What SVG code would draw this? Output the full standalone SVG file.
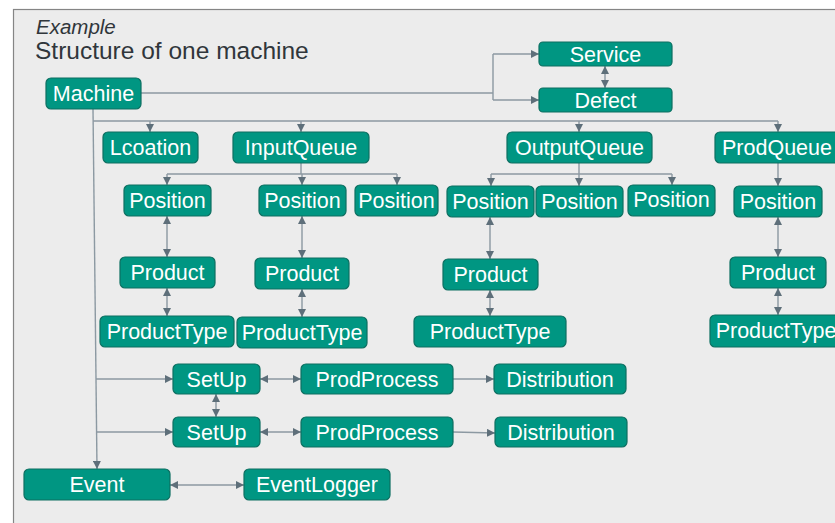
<svg xmlns="http://www.w3.org/2000/svg" width="835" height="523" viewBox="0 0 835 523">
  <style>
    .node rect { fill: #009682; stroke: #0d6f61; stroke-width: 1.2; }
    .node text { fill: #ffffff; font-family: "Liberation Sans", Arial, sans-serif; font-size: 21.5px; text-anchor: middle; }
    .edge { fill: none; stroke: #8c99a2; stroke-width: 1.4; }
    .title { fill: #30363b; font-family: "Liberation Sans", Arial, sans-serif; }
  </style>
  <defs>
    <marker id="arrow" viewBox="0 0 8 8" refX="8" refY="4" markerWidth="8" markerHeight="8" markerUnits="userSpaceOnUse" orient="auto-start-reverse">
      <path d="M0,0 L8,4 L0,8 z" fill="#5e6f7a"/>
    </marker>
  </defs>

  <!-- canvas -->
  <rect x="0" y="0" width="835" height="523" fill="#ffffff"/>
  <rect x="13.5" y="9.5" width="840" height="530" fill="#ececec" stroke="#858585" stroke-width="1.2"/>

  <text class="title" x="36" y="34" font-size="20.5" font-style="italic">Example</text>
  <text class="title" x="35" y="59" font-size="24.5">Structure of one machine</text>

  <!-- connectors -->
  <g id="connectors">
    <!-- Machine to Service / Defect -->
    <path class="edge" d="M141,93 H493"/>
    <path class="edge" d="M493,54 V100"/>
    <path class="edge" d="M493,54 H539" marker-end="url(#arrow)"/>
    <path class="edge" d="M493,100 H539" marker-end="url(#arrow)"/>
    <path class="edge" d="M605,66 V88" marker-start="url(#arrow)" marker-end="url(#arrow)"/>

    <!-- Machine trunk -->
    <path class="edge" d="M93,109 L97,469" marker-end="url(#arrow)"/>
    <path class="edge" d="M93,121 H778"/>
    <path class="edge" d="M150,121 V132" marker-end="url(#arrow)"/>
    <path class="edge" d="M301,121 V132" marker-end="url(#arrow)"/>
    <path class="edge" d="M579,121 V132" marker-end="url(#arrow)"/>
    <path class="edge" d="M778,121 V132" marker-end="url(#arrow)"/>

    <!-- InputQueue positions -->
    <path class="edge" d="M301,163 V174"/>
    <path class="edge" d="M167,174 H397"/>
    <path class="edge" d="M167,174 V185" marker-end="url(#arrow)"/>
    <path class="edge" d="M302,174 V185" marker-end="url(#arrow)"/>
    <path class="edge" d="M397,174 V185" marker-end="url(#arrow)"/>

    <!-- OutputQueue positions -->
    <path class="edge" d="M579,163 V174"/>
    <path class="edge" d="M491,174 H672"/>
    <path class="edge" d="M491,174 V186" marker-end="url(#arrow)"/>
    <path class="edge" d="M579,174 V186" marker-end="url(#arrow)"/>
    <path class="edge" d="M672,174 V185" marker-end="url(#arrow)"/>

    <!-- ProdQueue position -->
    <path class="edge" d="M778,163 V186" marker-end="url(#arrow)"/>

    <!-- Position <-> Product <-> ProductType -->
    <path class="edge" d="M167,216 V257" marker-start="url(#arrow)" marker-end="url(#arrow)"/>
    <path class="edge" d="M167,288 V316" marker-start="url(#arrow)" marker-end="url(#arrow)"/>
    <path class="edge" d="M302,216 V258" marker-start="url(#arrow)" marker-end="url(#arrow)"/>
    <path class="edge" d="M302,289 V317" marker-start="url(#arrow)" marker-end="url(#arrow)"/>
    <path class="edge" d="M490,217 V259" marker-start="url(#arrow)" marker-end="url(#arrow)"/>
    <path class="edge" d="M490,290 V316" marker-start="url(#arrow)" marker-end="url(#arrow)"/>
    <path class="edge" d="M778,217 V257" marker-start="url(#arrow)" marker-end="url(#arrow)"/>
    <path class="edge" d="M778,288 V315" marker-start="url(#arrow)" marker-end="url(#arrow)"/>

    <!-- SetUp rows -->
    <path class="edge" d="M96,379 H173" marker-end="url(#arrow)"/>
    <path class="edge" d="M96.5,432 H173" marker-end="url(#arrow)"/>
    <path class="edge" d="M216,394 V417" marker-start="url(#arrow)" marker-end="url(#arrow)"/>
    <path class="edge" d="M260,379 H301" marker-start="url(#arrow)" marker-end="url(#arrow)"/>
    <path class="edge" d="M260,432 H301" marker-start="url(#arrow)" marker-end="url(#arrow)"/>
    <path class="edge" d="M453,379 H494" marker-end="url(#arrow)"/>
    <path class="edge" d="M453,432 L495,433" marker-end="url(#arrow)"/>

    <!-- Event <-> EventLogger -->
    <path class="edge" d="M170,485 H244" marker-start="url(#arrow)" marker-end="url(#arrow)"/>
  </g>

  <!-- nodes -->
  <g id="machine" class="node"><rect x="46" y="78" width="95" height="31" rx="5"/><text x="93.5" y="101">Machine</text></g>
  <g id="service" class="node"><rect x="539" y="42" width="133" height="24" rx="4"/><text x="605.5" y="62">Service</text></g>
  <g id="defect" class="node"><rect x="539" y="88" width="133" height="24" rx="4"/><text x="605.5" y="108">Defect</text></g>

  <g id="location" class="node"><rect x="103" y="132" width="95" height="31" rx="5"/><text x="150.5" y="155">Lcoation</text></g>
  <g id="input-queue" class="node"><rect x="233" y="132" width="136" height="31" rx="5"/><text x="301" y="155">InputQueue</text></g>
  <g id="output-queue" class="node"><rect x="507" y="132" width="145" height="31" rx="5"/><text x="579.5" y="155">OutputQueue</text></g>
  <g id="prod-queue" class="node"><rect x="715" y="132" width="130" height="31" rx="5"/><text x="777" y="155">ProdQueue</text></g>

  <g id="input-position-1" class="node"><rect x="124" y="185" width="87" height="31" rx="5"/><text x="167.5" y="208">Position</text></g>
  <g id="input-position-2" class="node"><rect x="259" y="185" width="87" height="31" rx="5"/><text x="302.5" y="208">Position</text></g>
  <g id="input-position-3" class="node"><rect x="355" y="185" width="83" height="31" rx="5"/><text x="396.5" y="208">Position</text></g>
  <g id="output-position-1" class="node"><rect x="447" y="186" width="87" height="31" rx="5"/><text x="490.5" y="209">Position</text></g>
  <g id="output-position-2" class="node"><rect x="536" y="186" width="87" height="31" rx="5"/><text x="579.5" y="209">Position</text></g>
  <g id="output-position-3" class="node"><rect x="628" y="185" width="87" height="31" rx="5"/><text x="671.5" y="207">Position</text></g>
  <g id="prod-position" class="node"><rect x="734" y="186" width="88" height="31" rx="5"/><text x="778" y="209">Position</text></g>

  <g id="product-1" class="node"><rect x="120" y="257" width="95" height="31" rx="5"/><text x="167.5" y="280">Product</text></g>
  <g id="product-2" class="node"><rect x="255" y="258" width="94" height="31" rx="5"/><text x="302" y="281">Product</text></g>
  <g id="product-3" class="node"><rect x="443" y="259" width="95" height="31" rx="5"/><text x="490.5" y="282">Product</text></g>
  <g id="product-4" class="node"><rect x="730" y="257" width="96" height="31" rx="5"/><text x="778" y="280">Product</text></g>

  <g id="product-type-1" class="node"><rect x="100" y="316" width="134" height="31" rx="5"/><text x="167" y="339">ProductType</text></g>
  <g id="product-type-2" class="node"><rect x="237" y="317" width="130" height="31" rx="5"/><text x="302" y="340">ProductType</text></g>
  <g id="product-type-3" class="node"><rect x="414" y="316" width="152" height="31" rx="5"/><text x="490" y="339">ProductType</text></g>
  <g id="product-type-4" class="node"><rect x="710" y="315" width="140" height="32" rx="5"/><text x="776" y="338">ProductType</text></g>

  <g id="setup-1" class="node"><rect x="173" y="364" width="87" height="30" rx="5"/><text x="216.5" y="387">SetUp</text></g>
  <g id="setup-2" class="node"><rect x="173" y="417" width="87" height="30" rx="5"/><text x="216.5" y="440">SetUp</text></g>
  <g id="prod-process-1" class="node"><rect x="301" y="364" width="152" height="30" rx="5"/><text x="377" y="387">ProdProcess</text></g>
  <g id="prod-process-2" class="node"><rect x="301" y="417" width="152" height="30" rx="5"/><text x="377" y="440">ProdProcess</text></g>
  <g id="distribution-1" class="node"><rect x="494" y="364" width="132" height="30" rx="5"/><text x="560" y="387">Distribution</text></g>
  <g id="distribution-2" class="node"><rect x="495" y="417" width="132" height="30" rx="5"/><text x="561" y="440">Distribution</text></g>

  <g id="event" class="node"><rect x="24" y="469" width="146" height="31" rx="5"/><text x="97" y="492">Event</text></g>
  <g id="event-logger" class="node"><rect x="244" y="469" width="146" height="31" rx="5"/><text x="317" y="492">EventLogger</text></g>
</svg>
